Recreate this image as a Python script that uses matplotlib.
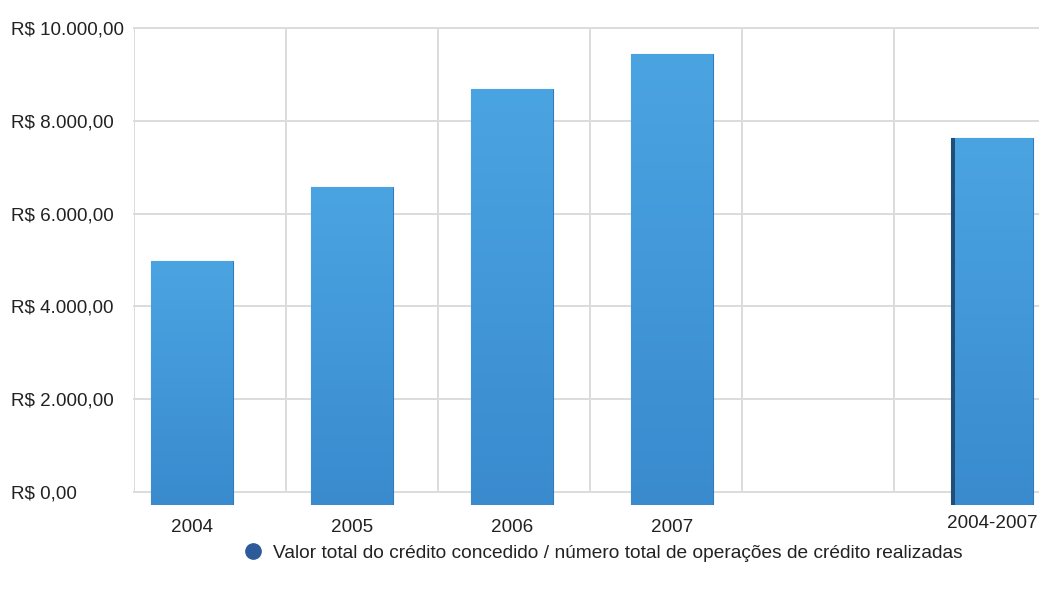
import matplotlib
matplotlib.use("Agg")
import matplotlib.pyplot as plt
import numpy as np
from matplotlib.lines import Line2D
from matplotlib.colors import LinearSegmentedColormap
from matplotlib.transforms import ScaledTranslation

# ---- data ----
categories = ["2004", "2005", "2006", "2007", "2004-2007"]
slots = [0, 1, 2, 3, 5]          # slot 4 is empty in the original
values = [4970, 6570, 8690, 9450, 7640]
ytick_values = [0, 2000, 4000, 6000, 8000, 10000]
ytick_labels = ["R$ 0,00", "R$ 2.000,00", "R$ 4.000,00", "R$ 6.000,00",
                "R$ 8.000,00", "R$ 10.000,00"]
legend_label = ("Valor total do crédito concedido / número total de "
                "operações de crédito realizadas")

# ---- style ----
W, H = 1039, 589
DPI = 100
FONT = "Liberation Sans"
FS = 13.6
LEG_FS = 13.8
TXT = "#222222"
GRID = "#dcdcdc"
BAR_TOP = "#4ba4e2"
BAR_BOT = "#398bce"
BAR_EDGE = "#2f7cbd"
LEG_DOT = "#2d5a98"
DEPTH = 287          # bars extend slightly below the zero line (3D-like base)
BAR_W = 0.51

fig = plt.figure(figsize=(W / DPI, H / DPI), dpi=DPI)
fig.patch.set_facecolor("white")

left_px, right_px, top_px, bot_px = 134, 1039, 28.3, 505
ax = fig.add_axes([left_px / W, 1 - bot_px / H,
                   (right_px - left_px) / W, (bot_px - top_px) / H])
ax.set_facecolor("white")
ax.set_xlim(-0.3625, 5.294)
ax.set_ylim(-DEPTH, 10000)
for s in ax.spines.values():
    s.set_visible(False)

# grid
for v in ytick_values:
    ax.axhline(v, color=GRID, lw=1.4, zorder=0, clip_on=False)
gx = -0.3625 + 0.95 * np.arange(6)
ax.vlines(gx, 0, 10000, color=GRID, lw=1.4, zorder=0)

# bars with vertical gradient
cmap = LinearSegmentedColormap.from_list("barg", [BAR_BOT, BAR_TOP])
bars = ax.bar(slots, [v + DEPTH for v in values], bottom=-DEPTH, width=BAR_W,
              color=BAR_BOT, edgecolor=BAR_EDGE, linewidth=0.8, zorder=2)
grad = np.linspace(0, 1, 256).reshape(-1, 1)
for b in bars:
    x0, y0 = b.get_x(), b.get_y()
    w, h = b.get_width(), b.get_height()
    im = ax.imshow(grad, cmap=cmap, origin="lower", aspect="auto",
                   extent=[x0, x0 + w, y0, y0 + h], zorder=2.5,
                   vmin=0, vmax=1)
    im.set_clip_path(b)
# dark left edge on the last (aggregate) bar
lb = bars[-1]
ax.bar(lb.get_x() + 0.012, lb.get_height(), bottom=lb.get_y(), width=0.024,
       color="#1f4e78", zorder=3)

# ticks
ax.set_yticks(ytick_values)
ax.set_yticklabels(ytick_labels, fontsize=FS, color=TXT, fontname=FONT)
ax.tick_params(axis="y", length=0, pad=(left_px - 11) * 72 / DPI)
for t in ax.get_yticklabels():
    t.set_horizontalalignment("left")
ax.set_xticks(slots)
ax.set_xticklabels(categories, fontsize=FS, color=TXT, fontname=FONT)
ax.tick_params(axis="x", length=0, pad=10)
ax.set_xlim(-0.3625, 5.294)
lastlab = ax.get_xticklabels()[-1]
lastlab.set_transform(lastlab.get_transform() +
                      ScaledTranslation(0, 4 / DPI, fig.dpi_scale_trans))

# legend
handle = Line2D([], [], marker="o", ls="", color=LEG_DOT, markersize=11)
leg = fig.legend(handles=[handle], labels=[legend_label], loc="center left",
                 bbox_to_anchor=(243 / W, 1 - 553 / H), frameon=False,
                 prop={"family": FONT, "size": LEG_FS}, handletextpad=0.55,
                 borderpad=0, borderaxespad=0, handlelength=1.0)
for t in leg.get_texts():
    t.set_color(TXT)

fig.savefig("out.png", dpi=DPI, facecolor="white")
